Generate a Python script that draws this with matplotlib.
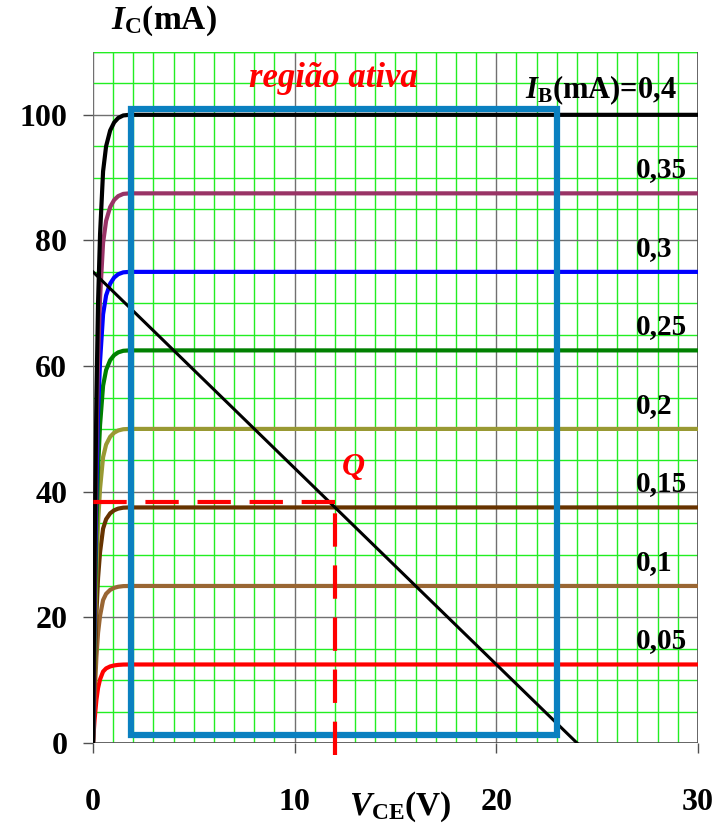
import numpy as np
import matplotlib
matplotlib.use("Agg")
import matplotlib.pyplot as plt
from matplotlib.patches import Rectangle
from matplotlib.ticker import MultipleLocator

plt.rcParams['mathtext.fontset'] = 'custom'
plt.rcParams['mathtext.rm'] = 'Liberation Serif:bold'
plt.rcParams['mathtext.it'] = 'Liberation Serif:bold:italic'
plt.rcParams['mathtext.bf'] = 'Liberation Serif:bold'

# base currents (mA) and the saturated collector currents (mA)
ib_labels = ['0,05', '0,1', '0,15', '0,2', '0,25', '0,3', '0,35', '0,4']
ic_sat = [12.5, 25, 37.5, 50, 62.5, 75, 87.5, 100]
curve_colors = ['#ff0000', '#996633', '#663300', '#999933',
                '#008000', '#0000ff', '#993366', '#000000']

# shape of the knee (fraction of saturated current)
vce_knee = [0, 0.08, 0.17, 0.25, 0.35, 0.5, 0.65, 0.85, 1.05, 1.25, 1.5,
            1.8, 30]
frac_knee = [0, 0.3, 0.55, 0.7, 0.81, 0.91, 0.95, 0.975, 0.988, 0.995,
             0.999, 1.0, 1.0]

# load line and operating point
load_v = [0, 24]
load_i = [75, 0]
q_v, q_i = 12, 38.3

# active region box (V, mA)
box_v = [1.9, 23.0]
box_i = [1.2, 101.0]

serif = 'Liberation Serif'

fig = plt.figure(figsize=(7.17, 8.23), dpi=100)
ax = fig.add_axes([0.1297, 0.0972, 0.9735 - 0.1297, 0.9368 - 0.0972])
ax.set_xlim(0, 30)
ax.set_ylim(0, 110)

# grid
ax.xaxis.set_major_locator(MultipleLocator(10))
ax.xaxis.set_minor_locator(MultipleLocator(1))
ax.yaxis.set_major_locator(MultipleLocator(20))
ax.yaxis.set_minor_locator(MultipleLocator(5))
ax.grid(which='minor', color='#22ee22', lw=1.0, zorder=0)
ax.grid(which='major', color='#707070', lw=1.0, zorder=0.5)
ax.set_axisbelow(True)
for s in ax.spines.values():
    s.set_visible(False)
ax.axhline(110, color='#22ee22', lw=1.0, zorder=0)
ax.axvline(30, color='#505050', lw=1.2, zorder=0.6)
ax.axvline(0, color='#707070', lw=1.2, zorder=0.6)
ax.axhline(0, color='#505050', lw=1.2, zorder=0.6)

ax.tick_params(which='minor', length=0)
ax.tick_params(which='major', direction='out', length=7.5, width=1,
               color='#505050')
ax.tick_params(axis='y', pad=11)
ax.tick_params(axis='x', pad=25)
for lab in ax.get_xticklabels() + ax.get_yticklabels():
    lab.set_fontfamily(serif)
    lab.set_fontweight('bold')
    lab.set_fontsize(23)

# characteristic curves
for isat, col in zip(ic_sat, curve_colors):
    ax.plot(vce_knee, np.array(frac_knee) * isat, color=col, lw=3,
            solid_joinstyle='round', solid_capstyle='round', zorder=3)

# load line
ax.plot(load_v, load_i, color='black', lw=2.2, zorder=4)

# active region box
ax.add_patch(Rectangle((box_v[0], box_i[0]), box_v[1] - box_v[0],
                       box_i[1] - box_i[0], fill=False, ec='#0a80c0',
                       lw=4.5, zorder=5))

# Q point projections
ax.plot([q_v, -0.25], [q_i, q_i], color='red', lw=3, dashes=(8, 4.5),
        clip_on=False, zorder=6)
ax.plot([q_v, q_v], [-1.9, q_i], color='red', lw=3, dashes=(8, 4.5),
        clip_on=False, zorder=6)
ax.text(12.9, 43.8, 'Q', color='red', fontfamily=serif, fontweight='bold',
        fontstyle='italic', fontsize=23, ha='center', va='center', zorder=7)

# curve labels
ax.text(28.95, 101.2, r'$I_{\mathrm{B}}$(mA)=0,4', fontfamily=serif,
        fontweight='bold', fontsize=22, ha='right', va='bottom', zorder=7)
for lab, isat in zip(ib_labels[:-1], ic_sat[:-1]):
    ax.text(26.9, isat + 1.6, lab, fontfamily=serif, fontweight='bold',
            fontsize=21, ha='left', va='bottom', zorder=7)

ax.text(11.9, 105.8, 'região ativa', color='red', fontfamily=serif,
        fontweight='bold', fontstyle='italic', fontsize=25,
        ha='center', va='center', zorder=7)

# axis titles
fig.text(0.228, 0.975, r'$I_{\mathrm{C}}$(mA)', fontfamily=serif,
         fontweight='bold', fontsize=24, ha='center', va='center')
fig.text(0.558, 0.02, r'$V_{\mathrm{CE}}$(V)', fontfamily=serif,
         fontweight='bold', fontsize=24, ha='center', va='center')

fig.savefig('out.png', dpi=100)
